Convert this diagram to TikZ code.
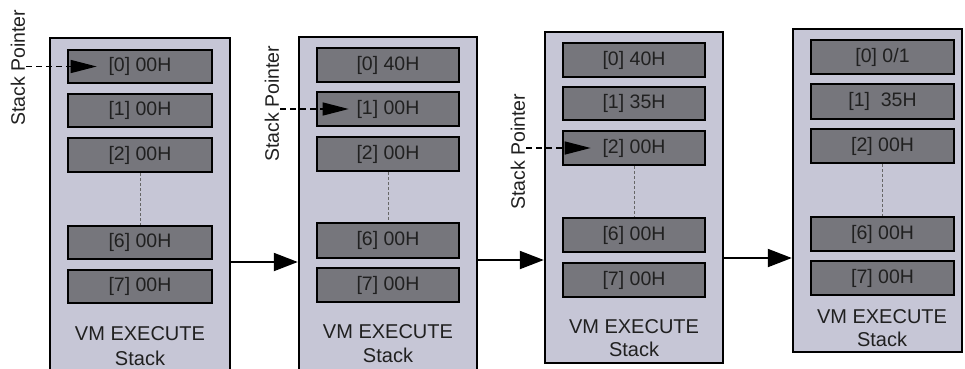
\documentclass[tikz,border=0pt]{standalone}
\usepackage{fontspec}
\setmainfont{Liberation Sans}
\usetikzlibrary{arrows.meta}
\definecolor{panelfill}{RGB}{198,198,214}
\definecolor{cellfill}{RGB}{118,118,124}
\definecolor{txt}{RGB}{32,32,32}
\tikzset{
  panelbox/.style={draw=black, line width=2.4pt, fill=panelfill, inner sep=0pt},
  cellbox/.style={draw=black, line width=2.6pt, fill=cellfill, inner sep=0pt, text=txt, font=\fontsize{19.5}{19.5}\selectfont},
  captxt/.style={text=txt, font=\fontsize{20}{20}\selectfont, inner sep=0pt},
  splabel/.style={text=txt, font=\fontsize{19.5}{19.5}\selectfont, inner sep=1pt, rotate=90},
  spline/.style={draw=black, line width=1.4pt, dash pattern=on 6pt off 4pt, -{Triangle[length=26pt,width=13pt]}},
  flow/.style={draw=black, line width=2pt, -{Triangle[length=24pt,width=18pt]}},
  gapline/.style={draw=gray!80!black, line width=0.8pt, dash pattern=on 3pt off 2pt},
}
\newcommand\boxnode[7]{\node[#1, minimum width={#4-#3}, minimum height={#6-#5}] (#2) at ({(#3+#4)/2},{(#5+#6)/2}) {#7};}
\begin{document}
\begin{tikzpicture}[x=1pt,y=-1pt]
\useasboundingbox (0,0) rectangle (965,368);
\clip (0,0) rectangle (965,368);
\fill[white] (0,0) rectangle (965,368);

% ---------- panel 1
\boxnode{panelbox}{p1}{50}{230}{38}{380}{}
\boxnode{cellbox}{c10}{68}{212}{50}{83}{[0] 00H}
\boxnode{cellbox}{c11}{68}{212}{94}{127}{[1] 00H}
\boxnode{cellbox}{c12}{68}{212}{138}{172}{[2] 00H}
\boxnode{cellbox}{c16}{68}{212}{226}{259}{[6] 00H}
\boxnode{cellbox}{c17}{68}{212}{270}{303}{[7] 00H}
\draw[gapline] (c12.south) -- (c16.north);
\node[captxt] (v1) at (140,334) {VM EXECUTE};
\node[captxt] (s1) at (140,358) {Stack};
\node[splabel] (sp1) at (18,68) {Stack Pointer};
\draw[spline] (sp1.south |- c10.west) -- ([xshift=30pt]c10.west);

% ---------- panel 2
\boxnode{panelbox}{p2}{299}{477}{37}{380}{}
\boxnode{cellbox}{c20}{317}{459}{48}{82}{[0] 40H}
\boxnode{cellbox}{c21}{317}{459}{92}{126}{[1] 00H}
\boxnode{cellbox}{c22}{317}{459}{137}{171}{[2] 00H}
\boxnode{cellbox}{c26}{317}{459}{223}{258}{[6] 00H}
\boxnode{cellbox}{c27}{317}{459}{268}{302}{[7] 00H}
\draw[gapline] (c22.south) -- (c26.north);
\node[captxt] (v2) at (388,332) {VM EXECUTE};
\node[captxt] (s2) at (388,355) {Stack};
\node[splabel] (sp2) at (272,104) {Stack Pointer};
\draw[spline] (sp2.south |- c21.west) -- ([xshift=33pt]c21.west);

% ---------- panel 3
\boxnode{panelbox}{p3}{545}{723}{32}{363}{}
\boxnode{cellbox}{c30}{563}{705}{43}{77}{[0] 40H}
\boxnode{cellbox}{c31}{563}{705}{87}{120}{[1] 35H}
\boxnode{cellbox}{c32}{563}{705}{131}{165}{[2] 00H}
\boxnode{cellbox}{c36}{563}{705}{218}{252}{[6] 00H}
\boxnode{cellbox}{c37}{563}{705}{263}{297}{[7] 00H}
\draw[gapline] (c32.south) -- (c36.north);
\node[captxt] (v3) at (634,327) {VM EXECUTE};
\node[captxt] (s3) at (634,349) {Stack};
\node[splabel] (sp3) at (518,152) {Stack Pointer};
\draw[spline] (sp3.south |- c32.west) -- ([xshift=29pt]c32.west);

% ---------- panel 4
\boxnode{panelbox}{p4}{793}{962}{29}{352}{}
\boxnode{cellbox}{c40}{811}{954}{40}{74}{[0] 0/1}
\boxnode{cellbox}{c41}{811}{954}{84}{119}{[1]\ \ 35H}
\boxnode{cellbox}{c42}{811}{954}{129}{163}{[2] 00H}
\boxnode{cellbox}{c46}{811}{954}{217}{251}{[6] 00H}
\boxnode{cellbox}{c47}{811}{954}{261}{295}{[7] 00H}
\draw[gapline] (c42.south) -- (c46.north);
\node[captxt] (v4) at (882,317) {VM EXECUTE};
\node[captxt] (s4) at (882,339) {Stack};

% ---------- flow arrows
\coordinate (y1) at (0,262);
\coordinate (y2) at (0,260);
\coordinate (y3) at (0,258);
\draw[flow] (p1.east |- y1) -- (p2.west |- y1);
\draw[flow] (p2.east |- y2) -- (p3.west |- y2);
\draw[flow] (p3.east |- y3) -- (p4.west |- y3);
\end{tikzpicture}
\end{document}
